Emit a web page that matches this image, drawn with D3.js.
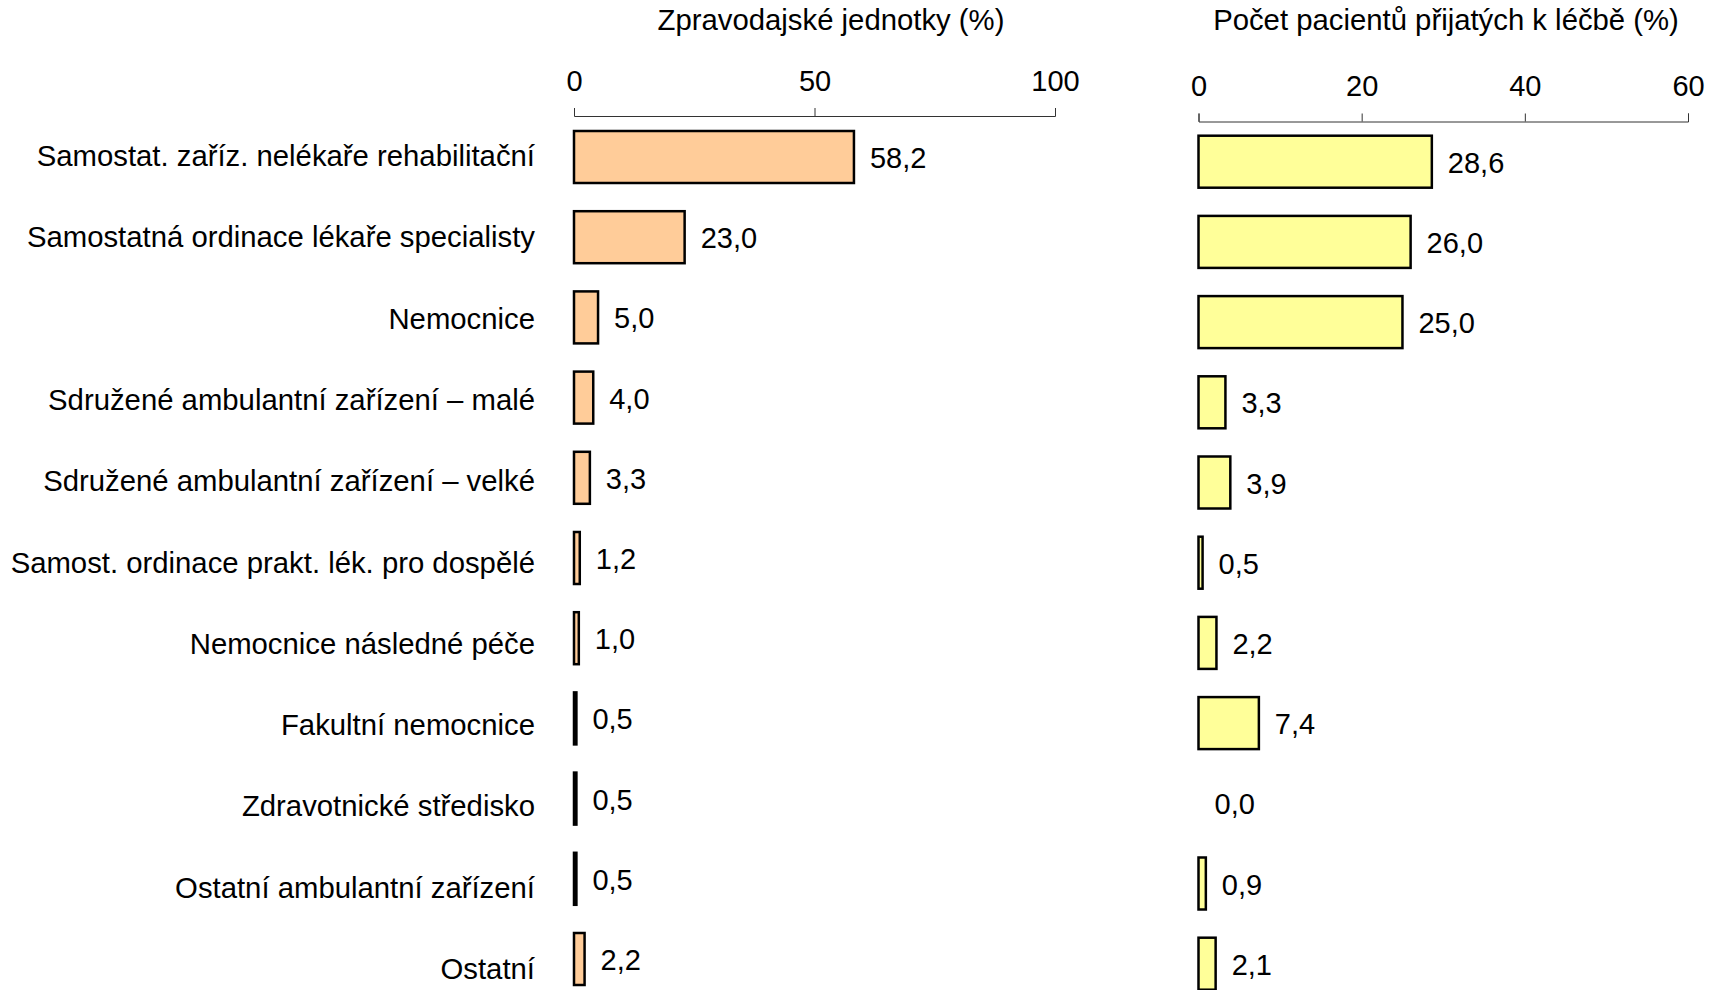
<!DOCTYPE html>
<html>
<head>
<meta charset="utf-8">
<script src="https://cdn.jsdelivr.net/npm/d3@7"></script>
<style>
  body { margin: 0; background: #fff; }
  svg text { font-family: "Liberation Sans", Arial, sans-serif; fill: #000; }
  .axis path, .axis line { stroke: #333; }
</style>
</head>
<body>
<svg id="chart" width="1713" height="990"></svg>
<script>
"use strict";

// categories (top to bottom)
const categories = [
  "Samostat. zaříz. nelékaře rehabilitační",
  "Samostatná ordinace lékaře specialisty",
  "Nemocnice",
  "Sdružené ambulantní zařízení – malé",
  "Sdružené ambulantní zařízení – velké",
  "Samost. ordinace prakt. lék. pro dospělé",
  "Nemocnice následné péče",
  "Fakultní nemocnice",
  "Zdravotnické středisko",
  "Ostatní ambulantní zařízení",
  "Ostatní"
];

// Zpravodajské jednotky (%)
const unitsShare = [58.2, 23.0, 5.0, 4.0, 3.3, 1.2, 1.0, 0.5, 0.5, 0.5, 2.2];
// Počet pacientů přijatých k léčbě (%)
const patientsShare = [28.6, 26.0, 25.0, 3.3, 3.9, 0.5, 2.2, 7.4, 0.0, 0.9, 2.1];

const unitsTicks = [0, 50, 100];
const patientsTicks = [0, 20, 40, 60];

const titles = ["Zpravodajské jednotky (%)", "Počet pacientů přijatých k léčbě (%)"];

const cz = d3.formatLocale({decimal: ",", thousands: " ", grouping: [3], currency: ["", " Kč"]});
const fmt = cz.format(".1f");

const svg = d3.select("#chart");
const barH = 52;
const fs = 29.3;

// category labels
const yLabel = d3.scalePoint().domain(categories).range([166, 979]);
svg.append("g")
   .selectAll("text")
   .data(categories)
   .join("text")
   .attr("x", 535)
   .attr("y", d => yLabel(d))
   .attr("text-anchor", "end")
   .attr("font-size", fs)
   .text(d => d);

/**
 * draws one bar panel
 */
function panel(values, ticks, cfg)
{
    let x = d3.scaleLinear()
              .domain([ticks[0], ticks[ticks.length - 1]])
              .range([cfg.x0, cfg.x1]);
    let y = d3.scalePoint()
              .domain(categories)
              .range([cfg.y0, cfg.y0 + 802]);

    let axis = svg.append("g")
                  .attr("class", "axis")
                  .attr("transform", "translate(0," + cfg.axisY + ")")
                  .call(d3.axisTop(x)
                          .tickValues(ticks)
                          .tickSize(8)
                          .tickSizeOuter(8)
                          .tickPadding(cfg.pad)
                          .tickFormat(d3.format("d")));
    axis.selectAll("text")
        .attr("font-size", 29)
        .attr("font-family", "Liberation Sans, Arial, sans-serif")
        .attr("fill", "#000");

    let rows = categories.map((c, i) => ({c: c, v: values[i]}));

    svg.append("g")
       .selectAll("rect")
       .data(rows.filter(d => d.v > 0))
       .join("rect")
       .attr("x", x(0))
       .attr("y", d => y(d.c) - barH / 2)
       .attr("width", d => x(d.v) - x(0))
       .attr("height", barH)
       .attr("fill", cfg.fill)
       .attr("stroke", "#000")
       .attr("stroke-width", 2.5);

    svg.append("g")
       .selectAll("text")
       .data(rows)
       .join("text")
       .attr("x", d => x(d.v) + 16)
       .attr("y", d => y(d.c) + 11)
       .attr("font-size", 29)
       .text(d => fmt(d.v));

    svg.append("text")
       .attr("x", cfg.titleX)
       .attr("y", 30)
       .attr("text-anchor", "middle")
       .attr("font-size", fs)
       .text(cfg.title);
}

panel(unitsShare, unitsTicks, {
    x0: 574, x1: 1055, y0: 157, axisY: 116, pad: 17,
    fill: "#ffcc99", title: titles[0], titleX: 831
});

panel(patientsShare, patientsTicks, {
    x0: 1198.5, x1: 1688, y0: 161.7, axisY: 121.5, pad: 18,
    fill: "#ffff99", title: titles[1], titleX: 1446
});
</script>
</body>
</html>
